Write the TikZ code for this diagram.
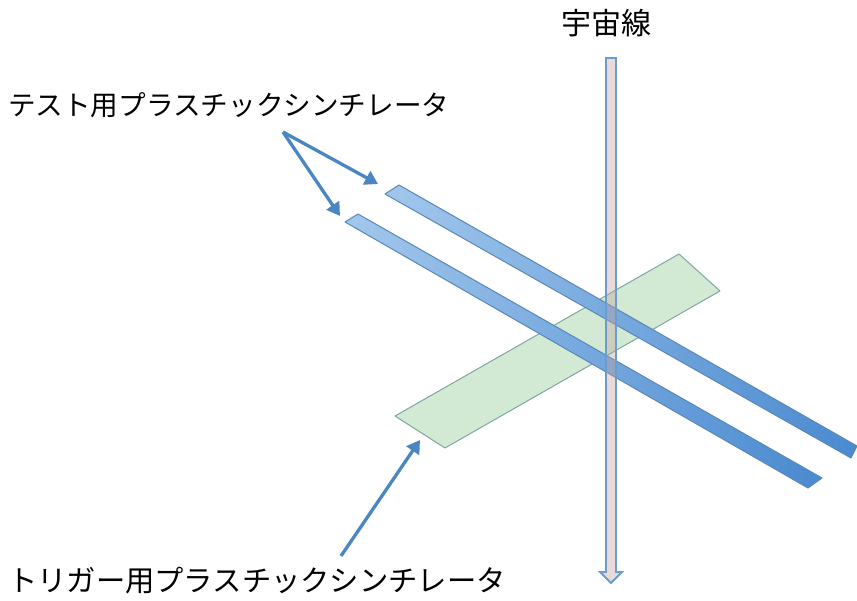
\documentclass[tikz,border=0pt]{standalone}
\usepackage{fontspec}
\newfontfamily\jp{Noto Sans CJK JP}
\usetikzlibrary{arrows.meta}
\definecolor{stripL}{HTML}{A2C7EC}
\definecolor{stripM}{HTML}{74A9DE}
\definecolor{stripR}{HTML}{4A8AD0}
\definecolor{stripEdge}{HTML}{5A87B6}
\definecolor{plateFill}{HTML}{D2EAD3}
\definecolor{plateEdge}{HTML}{7FA6A2}
\definecolor{rayFill}{HTML}{C3A39E}
\definecolor{rayEdge}{HTML}{6A9DCC}
\definecolor{callout}{HTML}{4A86C2}
\tikzset{
  label/.style={font=\jp, text=black, inner sep=0pt},
  strip/.style={draw=stripEdge, line width=1pt, left color=stripL, middle color=stripM, right color=stripR, line join=round},
  plate/.style={draw=plateEdge, line width=1pt, fill=plateFill, line join=round},
  ray/.style={draw=rayEdge, line width=1.8pt, fill=rayFill, fill opacity=0.4, line join=miter},
  pointer/.style={draw=callout, line width=3.3pt, -{Triangle[width=15pt,length=13pt]}}
}
\begin{document}
\begin{tikzpicture}[x=1pt,y=-1pt]
\useasboundingbox (0,0) rectangle (857,601);

% trigger scintillator plate
\draw[plate] (395,416) -- (445,448) -- (720,291) -- (679,254) -- cycle;

% the two test scintillator strips
\draw[strip] (385,194) -- (399,185) -- (857,446) -- (851,458) -- cycle;
\draw[strip] (345,222) -- (358,214) -- (822,478) -- (808,488) -- cycle;

% cosmic ray passing vertically through everything
\draw[ray] (606,58) -- (616,58) -- (616,572) -- (622,572) -- (611,583)
  -- (600,572) -- (606,572) -- cycle;

% labels
\node[label, font=\jp\fontsize{30}{30}\selectfont] (cosmic) at (606,23) {宇宙線};
\node[label, font=\jp\fontsize{27.6}{27.6}\selectfont, anchor=west] (testlbl) at (8,105) {テスト用プラスチックシンチレータ};
\node[label, font=\jp\fontsize{29.3}{29.3}\selectfont, anchor=west] (triglbl) at (8,581) {トリガー用プラスチックシンチレータ};

% callout arrows
\coordinate (tsrc) at (283,132);
\coordinate (ttipA) at (378,184);
\coordinate (ttipB) at (340,216);
\coordinate (gsrc) at (341,556);
\coordinate (gtip) at (420,440);
\draw[pointer] (tsrc) -- (ttipA);
\draw[pointer] (tsrc) -- (ttipB);
\draw[pointer] (gsrc) -- (gtip);
\end{tikzpicture}
\end{document}
